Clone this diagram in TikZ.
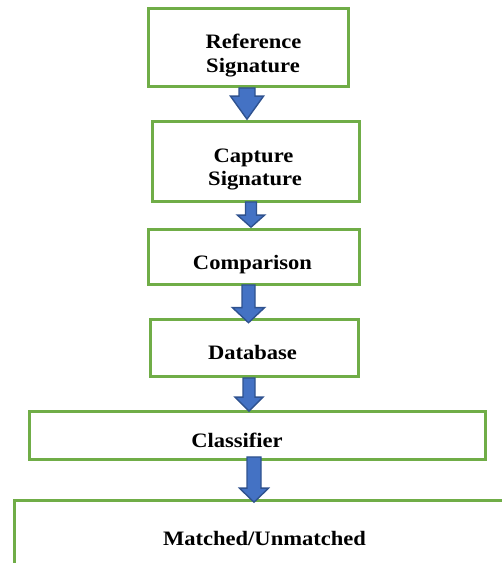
\documentclass[tikz,border=0pt]{standalone}
\usepackage{fontspec}
\setmainfont{Liberation Serif}[FakeStretch=1.1]
\usetikzlibrary{calc}

\definecolor{boxgreen}{HTML}{70AD47}
\definecolor{arrowfill}{HTML}{4472C4}
\definecolor{arrowedge}{HTML}{2F528F}

\tikzset{
  stagebox/.style={draw=boxgreen, line width=2.8pt, fill=white, rectangle,
    inner sep=0pt, anchor=south west},
  stagetext/.style={anchor=base, inner sep=0pt,
    font=\fontsize{20.5}{24}\selectfont\bfseries},
  arrowblock/.style={fill=arrowfill, draw=arrowedge, line width=1.4pt,
    line join=miter}
}

% block arrow: from, to, x centre, shaft half width, head half width,
% head length, offset of shaft top above from.south, offset of tip below to.north
\newcommand\flowarrow[8]{%
  \filldraw[arrowblock] let \p1=($(#1.south)+(0,#7)$), \p2=($(#2.north)-(0,#8)$) in
    ({(#3-#4)*1pt}, \y1) -- ({(#3+#4)*1pt}, \y1) -- ({(#3+#4)*1pt}, {\y2+#6*1pt})
    -- ({(#3+#5)*1pt}, {\y2+#6*1pt}) -- ({#3*1pt}, \y2)
    -- ({(#3-#5)*1pt}, {\y2+#6*1pt}) -- ({(#3-#4)*1pt}, {\y2+#6*1pt}) -- cycle;}

\begin{document}
\begin{tikzpicture}[x=1pt, y=1pt]
  \useasboundingbox (0,0) rectangle (502,563);
  \clip (0,0) rectangle (502,563);

  % stages (x from left, y from bottom)
  \node[stagebox, minimum width=200pt, minimum height=78pt] (ref) at (147,475) {};
  \node[stagebox, minimum width=207pt, minimum height=80pt] (cap) at (151,360) {};
  \node[stagebox, minimum width=211pt, minimum height=55pt] (cmp) at (147,277) {};
  \node[stagebox, minimum width=208pt, minimum height=57pt] (db)  at (149,185) {};
  \node[stagebox, minimum width=456pt, minimum height=48pt] (cls) at (28,102) {};
  \node[stagebox, minimum width=520pt, minimum height=90pt] (res) at (13,-29) {};

  % labels
  \node[stagetext] (refa) at (253.5,514) {Reference};
  \node[stagetext] (refb) at (253,490) {Signature};
  \node[stagetext] (capa) at (253.5,400) {Capture};
  \node[stagetext] (capb) at (255,377) {Signature};
  \node[stagetext] (cmpa) at (252.5,293) {Comparison};
  \node[stagetext] (dba)  at (252.5,203) {Database};
  \node[stagetext] (clsa) at (237,115) {Classifier};
  \node[stagetext] (resa) at (264.5,17) {Matched/Unmatched};

  % block arrows between stages
  \flowarrow{ref}{cap}{247}{8}{16.5}{23}{0}{-1}
  \flowarrow{cap}{cmp}{251}{5.5}{13.5}{12}{1}{-1}
  \flowarrow{cmp}{db}{248.5}{6.5}{16}{15}{1}{4.5}
  \flowarrow{db}{cls}{249}{6}{14}{14}{0}{1}
  \flowarrow{cls}{res}{254}{7}{14.5}{14}{4}{3}
\end{tikzpicture}
\end{document}
